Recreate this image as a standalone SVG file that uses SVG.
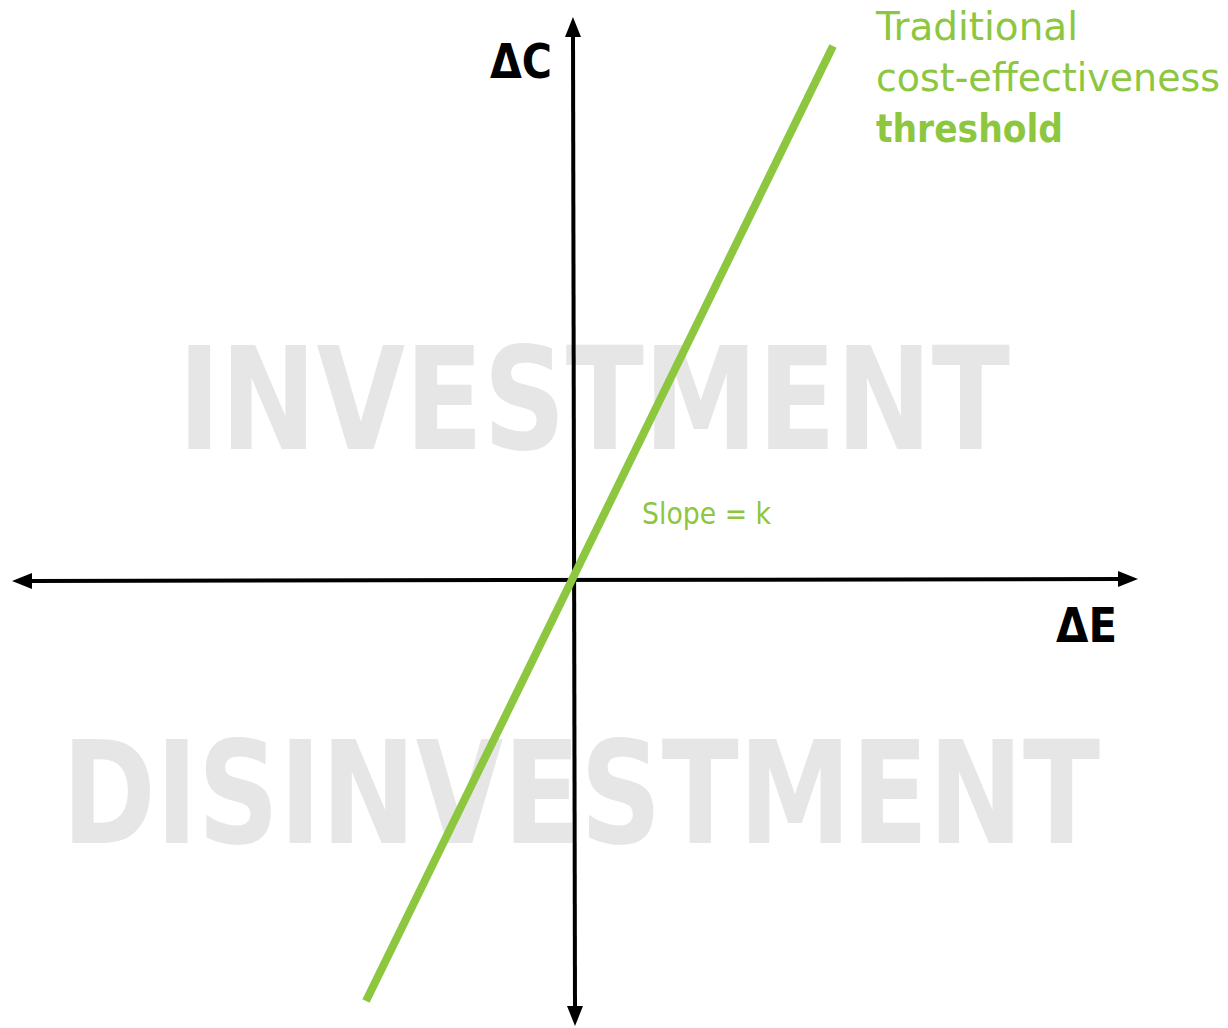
<svg xmlns="http://www.w3.org/2000/svg" width="1228" height="1028" viewBox="0 0 1228 1028">
<style>
.wm{font-family:"DejaVu Sans Condensed","DejaVu Sans",sans-serif;font-weight:bold;fill:#e6e6e6;font-size:142px}
.ax{font-family:"DejaVu Sans Condensed","DejaVu Sans",sans-serif;font-weight:bold;fill:#000;font-size:48px}
.gr{font-family:"DejaVu Sans Condensed","DejaVu Sans",sans-serif;fill:#8dc63f}
.axis{stroke:#000;stroke-width:4;fill:none}
</style>
<defs>
<marker id="ah" markerWidth="5" markerHeight="4" refX="0.5" refY="2" orient="auto-start-reverse" markerUnits="strokeWidth">
<path d="M0,0 L5,2 L0,4 Z" fill="#000"/>
</marker>
</defs>
<rect width="1228" height="1028" fill="#fff"/>
<g id="watermarks">
<text class="wm" x="178" y="449" textLength="832" lengthAdjust="spacingAndGlyphs">INVESTMENT</text>
<text class="wm" x="62" y="843" textLength="1038" lengthAdjust="spacingAndGlyphs">DISINVESTMENT</text>
</g>
<g id="connectors">
<line class="axis" x1="575" y1="1008" x2="573" y2="35" marker-start="url(#ah)" marker-end="url(#ah)"/>
<line class="axis" x1="30" y1="581" x2="1120" y2="579" marker-start="url(#ah)" marker-end="url(#ah)"/>
<line id="threshold-line" x1="366" y1="1001" x2="833" y2="46" stroke="#8dc63f" stroke-width="8"/>
</g>
<g id="label-dc"><text class="ax" x="490" y="78" textLength="62" lengthAdjust="spacingAndGlyphs">ΔC</text></g>
<g id="label-de"><text class="ax" x="1056" y="642" textLength="61" lengthAdjust="spacingAndGlyphs">ΔE</text></g>
<g id="label-slope"><text class="gr" x="642" y="524" font-size="30" textLength="129" lengthAdjust="spacingAndGlyphs">Slope = k</text></g>
<g id="label-threshold">
<text class="gr" x="876" y="40" font-size="39" textLength="202" lengthAdjust="spacingAndGlyphs">Traditional</text>
<text class="gr" x="876" y="91" font-size="39" textLength="344" lengthAdjust="spacingAndGlyphs">cost-effectiveness</text>
<text class="gr" x="876" y="142" font-size="39" font-weight="bold" textLength="187" lengthAdjust="spacingAndGlyphs">threshold</text>
</g>
</svg>
